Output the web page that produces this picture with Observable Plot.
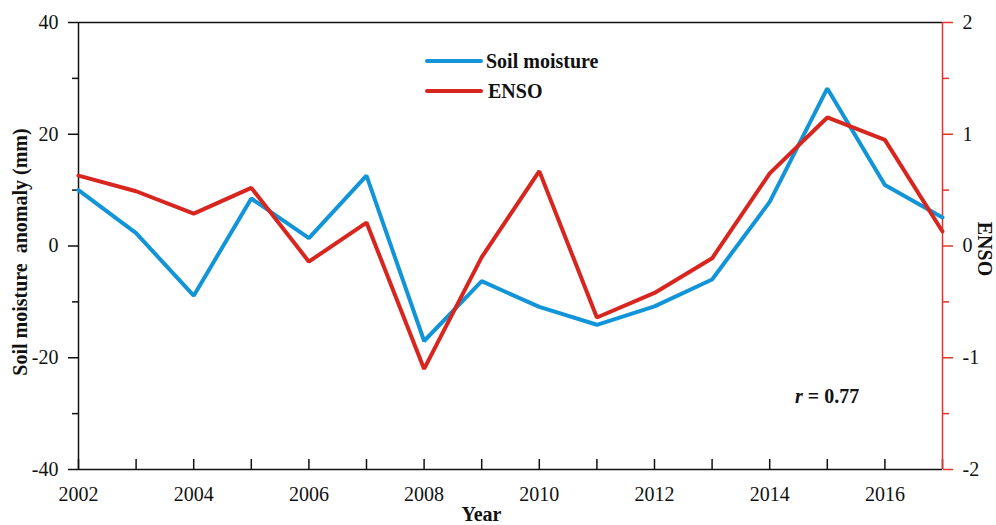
<!DOCTYPE html>
<html>
<head>
<meta charset="utf-8">
<script src="https://cdn.jsdelivr.net/npm/d3@7"></script>
<script src="https://cdn.jsdelivr.net/npm/@observablehq/plot@0.6"></script>
<style>
  html, body { margin: 0; padding: 0; background: #fff; }
  #chart { width: 996px; height: 525px; }
</style>
</head>
<body>
<div id="chart"></div>
<script>
const years = [2002, 2003, 2004, 2005, 2006, 2007, 2008, 2009, 2010, 2011, 2012, 2013, 2014, 2015, 2016, 2017];
const soilMoisture = [10.0, 2.3, -8.9, 8.5, 1.4, 12.6, -17.0, -6.3, -10.9, -14.1, -10.8, -6.0, 7.9, 28.2, 10.9, 5.1];
const enso = [0.63, 0.49, 0.29, 0.52, -0.14, 0.21, -1.10, -0.10, 0.67, -0.64, -0.42, -0.11, 0.65, 1.15, 0.95, 0.13];
const leftMajorTicks = [-40, -20, 0, 20, 40];
const leftMinorTicks = [-30, -10, 10, 30];
const rightMajorTicks = [-2, -1, 0, 1, 2];
const rightMinorTicks = [-1.5, -0.5, 0.5, 1.5];
const yearLabels = [2002, 2004, 2006, 2008, 2010, 2012, 2014, 2016];
const ensoFactor = 20; // right axis (-2..2) mapped onto left axis (-40..40)

const BLUE = "#1295d8";
const RED = "#d8261f";
const AXISRED = "#e8312c";
const FONT = "'Liberation Serif', 'Times New Roman', serif";

const smData = years.map((y, i) => ({year: y, value: soilMoisture[i]}));
const ensoData = years.map((y, i) => ({year: y, value: enso[i] * ensoFactor}));

const W = 996, H = 525, mL = 78, mR = 54, mT = 22, mB = 56;
const innerH = H - mT - mB;

const plot = Plot.plot({
  width: W, height: H,
  marginLeft: mL, marginRight: mR, marginTop: mT, marginBottom: mB,
  style: {fontFamily: FONT, fontSize: "20px", background: "#fff", color: "#111"},
  x: {domain: [2002, 2017], axis: null},
  y: {domain: [-40, 40], axis: null},
  marks: [
    // left axis
    Plot.axisY({ticks: leftMajorTicks, tickSize: 10, tickPadding: 10, strokeWidth: 1.5, tickFormat: d => String(d), label: null, fontSize: 20}),
    Plot.axisY({ticks: leftMinorTicks, tickSize: 6, strokeWidth: 1.5, tickFormat: () => "", label: null}),
    // right axis
    Plot.axisY({anchor: "right", ticks: rightMajorTicks.map(d => d * ensoFactor), tickSize: 10, tickPadding: 10, stroke: AXISRED, fill: "#111", strokeWidth: 1.5, tickFormat: d => String(d / ensoFactor), label: null, fontSize: 20}),
    Plot.axisY({anchor: "right", ticks: rightMinorTicks.map(d => d * ensoFactor), tickSize: 6, stroke: AXISRED, strokeWidth: 1.5, tickFormat: () => "", label: null}),
    // bottom year ticks (inward) and labels
    Plot.ruleX(years, {x: d => d, insetTop: innerH - 10, stroke: "#111", strokeWidth: 1.5}),
    Plot.axisX({ticks: yearLabels, tickSize: 0, tickPadding: 17, tickFormat: d => String(d), label: null, fontSize: 20}),
    // frame
    Plot.ruleY([40, -40], {stroke: "#111", strokeWidth: 1.5}),
    Plot.ruleX([2002], {stroke: "#111", strokeWidth: 1.5}),
    Plot.ruleX([2017], {stroke: AXISRED, strokeWidth: 1.5}),
    // series
    Plot.line(smData, {x: "year", y: "value", stroke: BLUE, strokeWidth: 4, strokeLinejoin: "miter"}),
    Plot.line(ensoData, {x: "year", y: "value", stroke: RED, strokeWidth: 4, strokeLinejoin: "miter"}),
    // axis titles
    Plot.text(["Soil moisture  anomaly (mm)"], {frameAnchor: "left", textAnchor: "middle", lineAnchor: "middle", dx: -58, dy: 6, rotate: -90, fontWeight: "bold", fontSize: 20, fill: "#111", style: "white-space: pre"}),
    Plot.text(["ENSO"], {frameAnchor: "right", textAnchor: "middle", lineAnchor: "middle", dx: 42, dy: 3, rotate: 90, fontWeight: "bold", fontSize: 20, fill: "#111"}),
    Plot.text(["Year"], {frameAnchor: "bottom", textAnchor: "middle", lineAnchor: "middle", dx: -29, dy: 45, fontWeight: "bold", fontSize: 20, fill: "#111"})
  ]
});

document.getElementById("chart").appendChild(plot);

// legend and annotation
const svg = d3.select(plot);
const legend = [
  {label: "Soil moisture", color: BLUE, y: 61, tx: 486},
  {label: "ENSO", color: RED, y: 91, tx: 488}
];
const lg = svg.append("g").attr("font-family", FONT).attr("font-weight", "bold").attr("font-size", 20).attr("text-anchor", "start");
legend.forEach(d => {
  lg.append("line").attr("x1", 427).attr("x2", 481).attr("y1", d.y).attr("y2", d.y)
    .attr("stroke", d.color).attr("stroke-width", 4).attr("stroke-linecap", "round");
  lg.append("text").attr("x", d.tx).attr("y", d.y).attr("dy", "0.33em").attr("fill", "#111").text(d.label);
});
const rt = svg.append("text").attr("x", 795).attr("y", 403).attr("text-anchor", "start")
  .attr("font-family", FONT).attr("font-weight", "bold").attr("font-size", 20).attr("fill", "#111");
rt.append("tspan").attr("font-style", "italic").text("r");
rt.append("tspan").text(" = 0.77");
</script>
</body>
</html>
